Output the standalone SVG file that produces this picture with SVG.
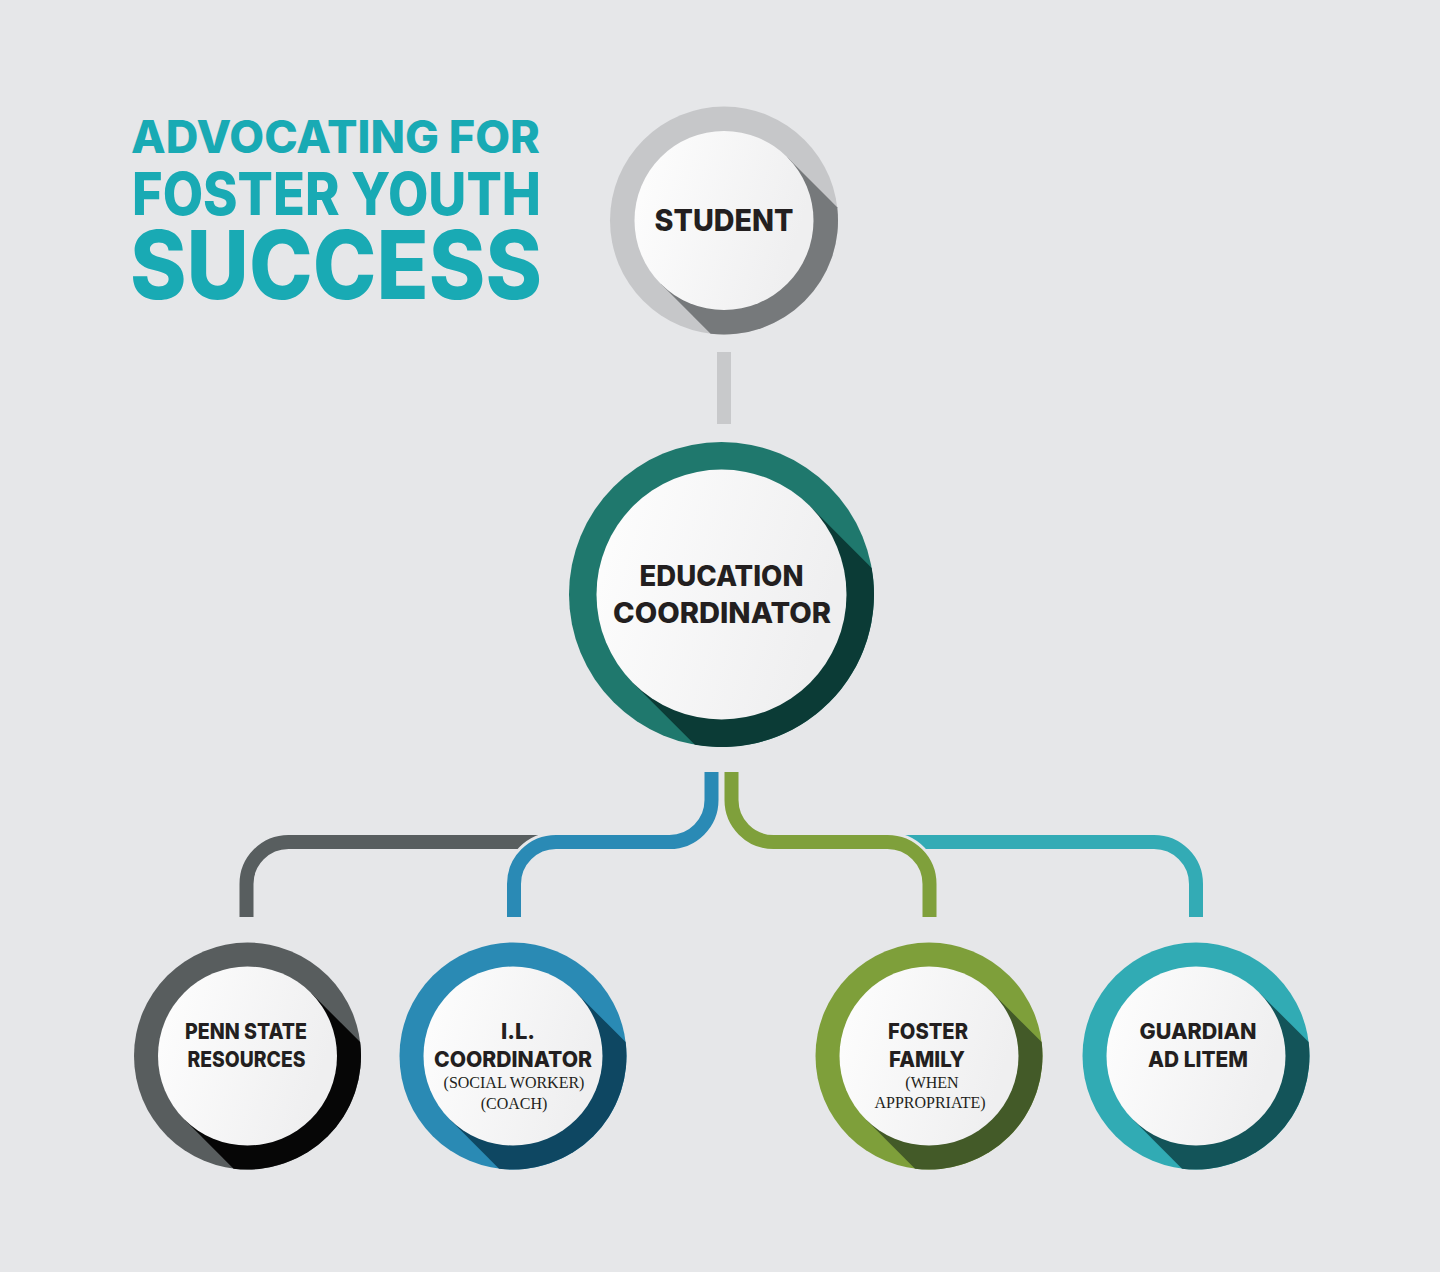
<svg xmlns="http://www.w3.org/2000/svg" width="1440" height="1272" viewBox="0 0 1440 1272">
<defs>
<linearGradient id="wg" x1="0" y1="0" x2="1" y2="0.3">
<stop offset="0" stop-color="#fefefe"/>
<stop offset="1" stop-color="#efeff0"/>
</linearGradient>
<style>
.bg{fill:#e6e7e9}
.title{font-family:Inter,"Liberation Sans",Arial,sans-serif;font-weight:800;fill:#19aab4}
.lbl{font-family:Inter,"Liberation Sans",Arial,sans-serif;font-weight:800;fill:#231f20;text-anchor:middle}
.sub{font-family:"Liberation Serif","Times New Roman",serif;font-size:16px;fill:#231f20;text-anchor:middle}
.inner{fill:url(#wg)}
.conn{fill:none;stroke-width:14;stroke-linecap:butt}
.gap{fill:none;stroke:#e6e7e9;stroke-width:20;stroke-linecap:butt}
</style>
</defs>
<rect class="bg" x="0" y="0" width="1440" height="1272"/>

<g id="title">
<text class="title" x="131" y="153" font-size="45" textLength="409" lengthAdjust="spacingAndGlyphs">ADVOCATING FOR</text>
<text class="title" x="132" y="215" font-size="59" textLength="409" lengthAdjust="spacingAndGlyphs">FOSTER YOUTH</text>
<text class="title" x="130" y="299" font-size="95" textLength="412" lengthAdjust="spacingAndGlyphs">SUCCESS</text>
</g>

<g id="connectors">
<rect x="717" y="352" width="14" height="72" fill="#c8c9cb"/>
<path class="conn" stroke="#585e5f" d="M246.5 917 V884 A42 42 0 0 1 288.5 842 H545"/>
<path class="conn" stroke="#33abb5" d="M900 842 H1154 A42 42 0 0 1 1196 884 V917"/>
<path class="gap" d="M711.5 772 V800 A42 42 0 0 1 669.5 842 H556 A42 42 0 0 0 514 884 V917"/>
<path class="conn" stroke="#2a8ab5" d="M711.5 772 V800 A42 42 0 0 1 669.5 842 H556 A42 42 0 0 0 514 884 V917"/>
<path class="gap" d="M731.5 772 V800 A42 42 0 0 0 773.5 842 H887.5 A42 42 0 0 1 929.5 884 V917"/>
<path class="conn" stroke="#7fa03b" d="M731.5 772 V800 A42 42 0 0 0 773.5 842 H887.5 A42 42 0 0 1 929.5 884 V917"/>
</g>

<g id="student" transform="translate(724,220.5)">
<circle r="114" fill="#c6c7c9"/>
<path d="M63.29,-63.29 L113.22,-13.36 A114,114 0 0 1 -13.36,113.22 L-63.29,63.29 Z" fill="#76797b"/>
<circle class="inner" r="89.5"/>
<text class="lbl" x="0" y="10.5" font-size="30" textLength="139" lengthAdjust="spacingAndGlyphs">STUDENT</text>
</g>

<g id="education" transform="translate(721.5,594.5)">
<circle r="152.5" fill="#1f786d"/>
<path d="M88.39,-88.39 L150.16,-26.62 A152.5,152.5 0 0 1 -26.62,150.16 L-88.39,88.39 Z" fill="#0b3b36"/>
<circle class="inner" r="125"/>
<text class="lbl" x="0" y="-8.5" font-size="28" textLength="164" lengthAdjust="spacingAndGlyphs">EDUCATION</text>
<text class="lbl" x="0.5" y="28" font-size="28" textLength="218" lengthAdjust="spacingAndGlyphs">COORDINATOR</text>
</g>

<g id="pennstate" transform="translate(247.5,1056)">
<circle r="113.5" fill="#585d5e"/>
<path d="M63.29,-63.29 L112.65,-13.93 A113.5,113.5 0 0 1 -13.93,112.65 L-63.29,63.29 Z" fill="#060606"/>
<circle class="inner" r="89.5"/>
<text class="lbl" x="-1.5" y="-17" font-size="22" textLength="122" lengthAdjust="spacingAndGlyphs">PENN STATE</text>
<text class="lbl" x="-1" y="11" font-size="22" textLength="118" lengthAdjust="spacingAndGlyphs">RESOURCES</text>
</g>

<g id="ilcoordinator" transform="translate(513,1056)">
<circle r="113.5" fill="#2a8ab4"/>
<path d="M63.29,-63.29 L112.65,-13.93 A113.5,113.5 0 0 1 -13.93,112.65 L-63.29,63.29 Z" fill="#0e4762"/>
<circle class="inner" r="89.5"/>
<text class="lbl" x="5" y="-17" font-size="22">I.L.</text>
<text class="lbl" x="0" y="11" font-size="22" textLength="158" lengthAdjust="spacingAndGlyphs">COORDINATOR</text>
<text class="sub" x="1" y="32">(SOCIAL WORKER)</text>
<text class="sub" x="1" y="53">(COACH)</text>
</g>

<g id="fosterfamily" transform="translate(929,1056)">
<circle r="113.5" fill="#7e9f3a"/>
<path d="M63.29,-63.29 L112.65,-13.93 A113.5,113.5 0 0 1 -13.93,112.65 L-63.29,63.29 Z" fill="#435a28"/>
<circle class="inner" r="89.5"/>
<text class="lbl" x="-1" y="-17" font-size="22" textLength="80" lengthAdjust="spacingAndGlyphs">FOSTER</text>
<text class="lbl" x="-2" y="11" font-size="22" textLength="76" lengthAdjust="spacingAndGlyphs">FAMILY</text>
<text class="sub" x="3" y="32">(WHEN</text>
<text class="sub" x="1" y="52">APPROPRIATE)</text>
</g>

<g id="guardian" transform="translate(1196,1056)">
<circle r="113.5" fill="#31abb4"/>
<path d="M63.29,-63.29 L112.65,-13.93 A113.5,113.5 0 0 1 -13.93,112.65 L-63.29,63.29 Z" fill="#135459"/>
<circle class="inner" r="89.5"/>
<text class="lbl" x="2" y="-17" font-size="22" textLength="117" lengthAdjust="spacingAndGlyphs">GUARDIAN</text>
<text class="lbl" x="2" y="11" font-size="22" textLength="100" lengthAdjust="spacingAndGlyphs">AD LITEM</text>
</g>
</svg>
